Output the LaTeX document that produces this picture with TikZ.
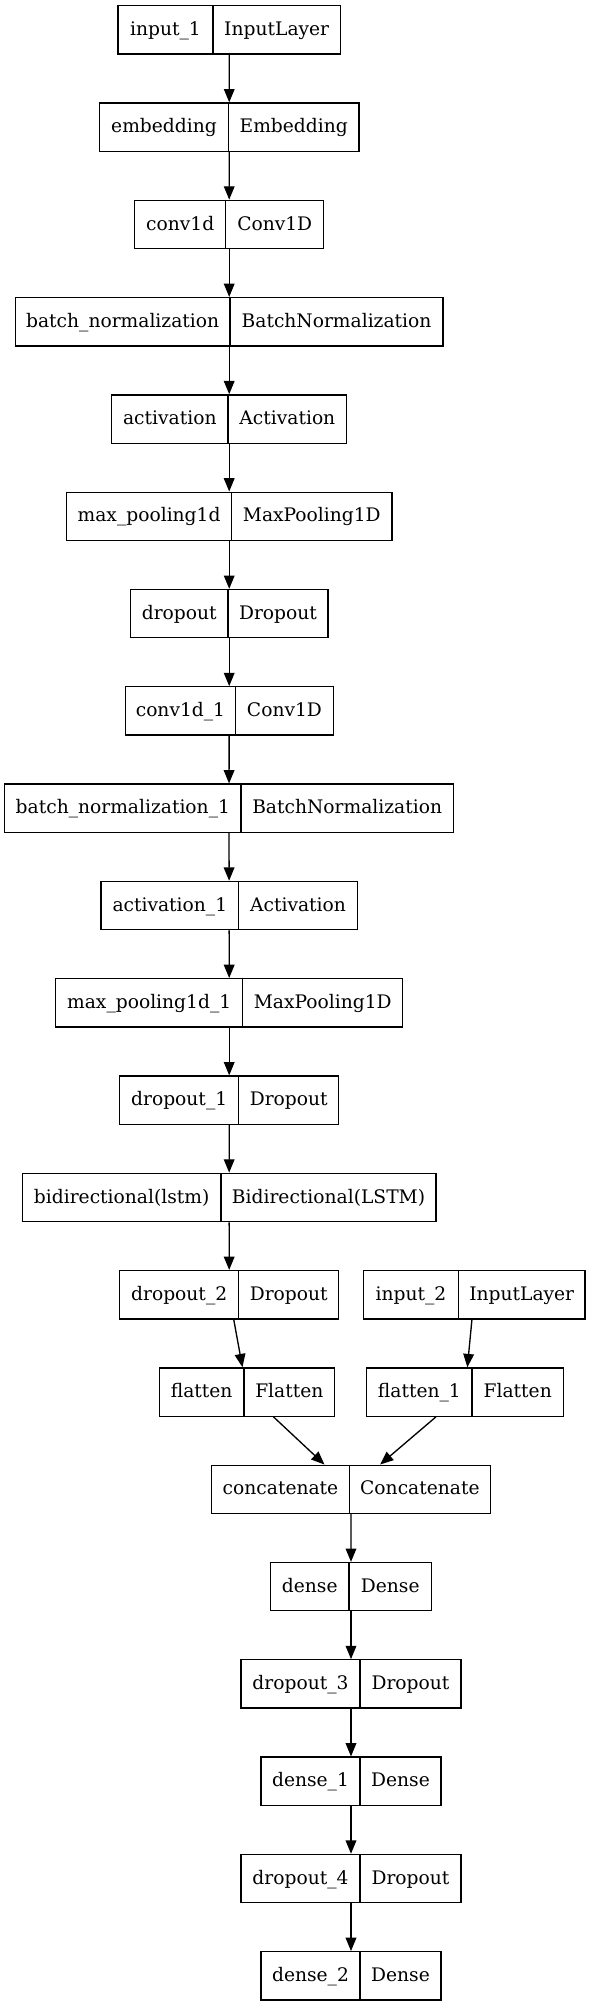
\documentclass[tikz,border=0pt]{standalone}
\usepackage{fontspec}
\setmainfont{DejaVu Serif}
\usetikzlibrary{arrows.meta,fit}
\begin{document}
\begin{tikzpicture}
        [x=0.75pt,y=-0.75pt,
         layerbox/.style={draw,line width=1pt,inner sep=0pt},
         celltext/.style={anchor=base,inner sep=0pt,font=\fontsize{14pt}{17pt}\selectfont},
         link/.style={-{Triangle[length=10pt,width=8pt]},line width=1pt}]
        \useasboundingbox (0,0) rectangle (589,2007);

        \foreach \nm/\row/\xl/\xd/\xr/\lname/\ltype in {
            input1/0/118/213/340.4/input\_1/InputLayer,
            embedding/1/99.5/228.5/359/embedding/Embedding,
            conv1d/2/134.7/225.8/323.7/conv1d/Conv1D,
            bn/3/15.3/230/443.1/batch\_normalization/BatchNormalization,
            act/4/111.7/228/346.7/activation/Activation,
            mp/5/66.5/231.7/391.9/max\_pooling1d/MaxPooling1D,
            drop/6/130.5/228/327.9/dropout/Dropout,
            conv1d1/7/125.2/235.7/333.2/conv1d\_1/Conv1D,
            bn1/8/4.7/241/453.3/batch\_normalization\_1/BatchNormalization,
            act1/9/101/238.7/357.3/activation\_1/Activation,
            mp1/10/55.7/242.7/402.7/max\_pooling1d\_1/MaxPooling1D,
            drop1/11/119.7/238.7/338.7/dropout\_1/Dropout,
            bilstm/12/22.3/221/436/bidirectional(lstm)/Bidirectional(LSTM),
            drop2/13/119.7/238.7/338.7/dropout\_2/Dropout,
            input2/13/363.6/458.4/585/input\_2/InputLayer,
            flat/14/159.3/244/334.7/flatten/Flatten,
            flat1/14/366.7/472.1/563.3/flatten\_1/Flatten,
            concat/15/211.6/349.4/490.4/concatenate/Concatenate,
            dense/16/270.5/349/431.5/dense/Dense,
            drop3/17/241/360/461/dropout\_3/Dropout,
            dense1/18/261/360/441/dense\_1/Dense,
            drop4/19/241/360/461/dropout\_4/Dropout,
            dense2/20/261/360/441/dense\_2/Dense}
        {
          \pgfmathsetmacro\yt{5.7+97.3*\row}
          \pgfmathsetmacro\yb{\yt+48.3}
          \pgfmathsetmacro\ym{\yt+29.7}
          \node[layerbox,fit={(\xl,\yt) (\xr,\yb)}] (\nm) {};
          \draw[line width=1pt] (\xd,\yt) -- (\xd,\yb);
          \node[celltext] (\nm-n) at ({(\xl+\xd)/2},\ym) {\lname};
          \node[celltext] (\nm-t) at ({(\xd+\xr)/2},\ym) {\ltype};
        }

        \foreach \a/\b in {input1/embedding,embedding/conv1d,conv1d/bn,bn/act,
            act/mp,mp/drop,drop/conv1d1,conv1d1/bn1,bn1/act1,act1/mp1,mp1/drop1,
            drop1/bilstm,bilstm/drop2,drop2/flat,input2/flat1,flat/concat,
            flat1/concat,concat/dense,dense/drop3,drop3/dense1,dense1/drop4,
            drop4/dense2}
          {\draw[link] (\a) -- (\b);}
      \end{tikzpicture}
\end{document}
